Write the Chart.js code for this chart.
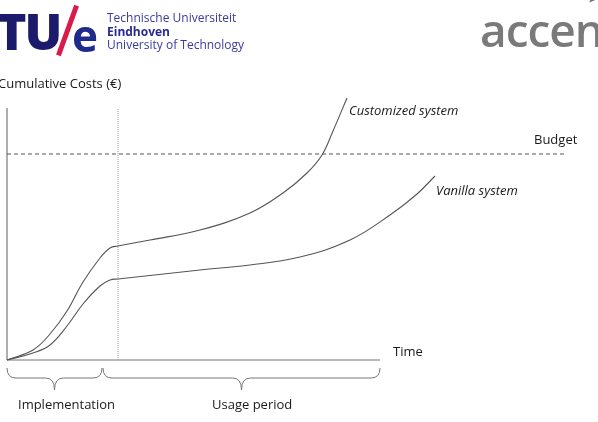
<!DOCTYPE html>
<html>
<head>
<meta charset="utf-8">
<script src="https://cdn.jsdelivr.net/npm/chart.js@4/dist/chart.umd.min.js"></script>
<style>
  html, body { margin: 0; padding: 0; background: #fff; }
  body { width: 598px; height: 422px; overflow: hidden; position: relative; font-family: "Open Sans", "Noto Sans", sans-serif; }
  #wrap { position: absolute; left: 0; top: 0; width: 598px; height: 422px; }
  .t { position: absolute; white-space: nowrap; color: #1a1a1a; font-size: 13px; line-height: 1; }
  .it { font-style: italic; }
  .tue { position: absolute; white-space: nowrap; font-family: "Open Sans", sans-serif; line-height: 1; }
  .slash { position: absolute; left: 65px; top: 4px; width: 5px; height: 53px; background: #d81b4a; transform: rotate(20deg); }
</style>
</head>
<body>
<div id="wrap"><canvas id="chart" width="598" height="422"></canvas></div>

<!-- logos -->
<div class="tue" style="left:-3px;top:6px;font-size:50px;font-weight:800;color:#1c1b6b;letter-spacing:-2px;">TU</div>
<div class="slash"></div>
<div class="tue" style="left:72px;top:13px;font-size:44px;font-weight:700;color:#1e2a8c;">e</div>
<div class="tue" style="left:107px;top:12px;font-size:12px;color:#3a3aa0;">Technische Universiteit</div>
<div class="tue" style="left:107px;top:26px;font-size:12px;font-weight:700;color:#2a2a90;">Eindhoven</div>
<div class="tue" style="left:107px;top:39px;font-size:12px;color:#3a3aa0;">University of Technology</div>
<div class="tue" style="left:480px;top:6px;font-size:46px;font-weight:600;color:#7a7a7a;letter-spacing:-1px;">accenture</div>
<div class="tue" style="left:589px;top:-10px;font-size:16px;font-weight:700;color:#777;">&gt;</div>

<!-- chart text -->
<div class="t" style="left:-2px;top:77px;">Cumulative Costs (€)</div>
<div class="t it" style="left:349px;top:104px;">Customized system</div>
<div class="t" style="left:534px;top:133px;">Budget</div>
<div class="t it" style="left:436px;top:184px;">Vanilla system</div>
<div class="t" style="left:393px;top:345px;">Time</div>
<div class="t" style="left:18px;top:398px;">Implementation</div>
<div class="t" style="left:212px;top:398px;">Usage period</div>

<script>
'use strict';

// values (x: time, y: cumulative cost, arbitrary units)
const customX = [0, 26, 43, 60, 76, 93, 103, 111, 143, 193, 243, 276, 300, 315, 326, 340];
const customY = [0, 10, 26, 49, 78, 102, 112, 114, 120, 130, 147, 167, 187, 205, 229, 262];

const vanillaX = [0, 26, 43, 60, 76, 93, 103, 111, 193, 243, 293, 343, 383, 410, 428];
const vanillaY = [0, 7, 15, 34, 56, 74, 80, 81, 90, 95, 103, 120, 145, 166, 184];

const budget = 206;
const budgetEnd = 560;
const implEnd = 111;
const timeEnd = 373;
const axisTop = 252;
const braces = [[0, 95], [96, 373]];

const pts = (xs, ys) => xs.map((x, i) => ({ x, y: ys[i] }));

const bracePlugin = {
  id: 'braces',
  afterDraw(chart) {
    const { ctx, scales: { x } } = chart;
    const top = 368, mid = 378, tip = 390, r = 9;
    ctx.save();
    ctx.strokeStyle = '#777';
    ctx.lineWidth = 1;
    braces.forEach(([a, b]) => {
      const x0 = x.getPixelForValue(a), x1 = x.getPixelForValue(b);
      const m = (x0 + x1) / 2;
      ctx.beginPath();
      ctx.moveTo(x0, top);
      ctx.quadraticCurveTo(x0, mid, x0 + r, mid);
      ctx.lineTo(m - r, mid);
      ctx.quadraticCurveTo(m, mid, m, tip);
      ctx.quadraticCurveTo(m, mid, m + r, mid);
      ctx.lineTo(x1 - r, mid);
      ctx.quadraticCurveTo(x1, mid, x1, top);
      ctx.stroke();
    });
    ctx.restore();
  }
};

const ctx = document.getElementById('chart').getContext('2d');
new Chart(ctx, {
  type: 'line',
  data: {
    datasets: [
      { data: pts(customX, customY), borderColor: '#555', borderWidth: 1.1, tension: 0.4 },
      { data: pts(vanillaX, vanillaY), borderColor: '#555', borderWidth: 1.1, tension: 0.4 },
      { data: [{ x: 0, y: budget }, { x: budgetEnd, y: budget }], borderColor: '#555', borderWidth: 1.2, borderDash: [4, 3] },
      { data: [{ x: implEnd, y: 0 }, { x: implEnd, y: axisTop }], borderColor: '#999', borderWidth: 1, borderDash: [1, 1] },
      { data: [{ x: 0, y: 0 }, { x: timeEnd, y: 0 }], borderColor: '#777', borderWidth: 1.2 },
      { data: [{ x: 0, y: 0 }, { x: 0, y: axisTop }], borderColor: '#777', borderWidth: 1.2 },
    ],
  },
  options: {
    responsive: false,
    animation: false,
    clip: false,
    layout: { padding: { left: 7, right: 28, top: 95, bottom: 62 } },
    elements: { point: { radius: 0 } },
    plugins: { legend: { display: false }, tooltip: { enabled: false } },
    scales: {
      x: { type: 'linear', min: 0, max: 563, display: false },
      y: { type: 'linear', min: 0, max: 265, display: false },
    },
  },
  plugins: [bracePlugin],
});
</script>
</body>
</html>
